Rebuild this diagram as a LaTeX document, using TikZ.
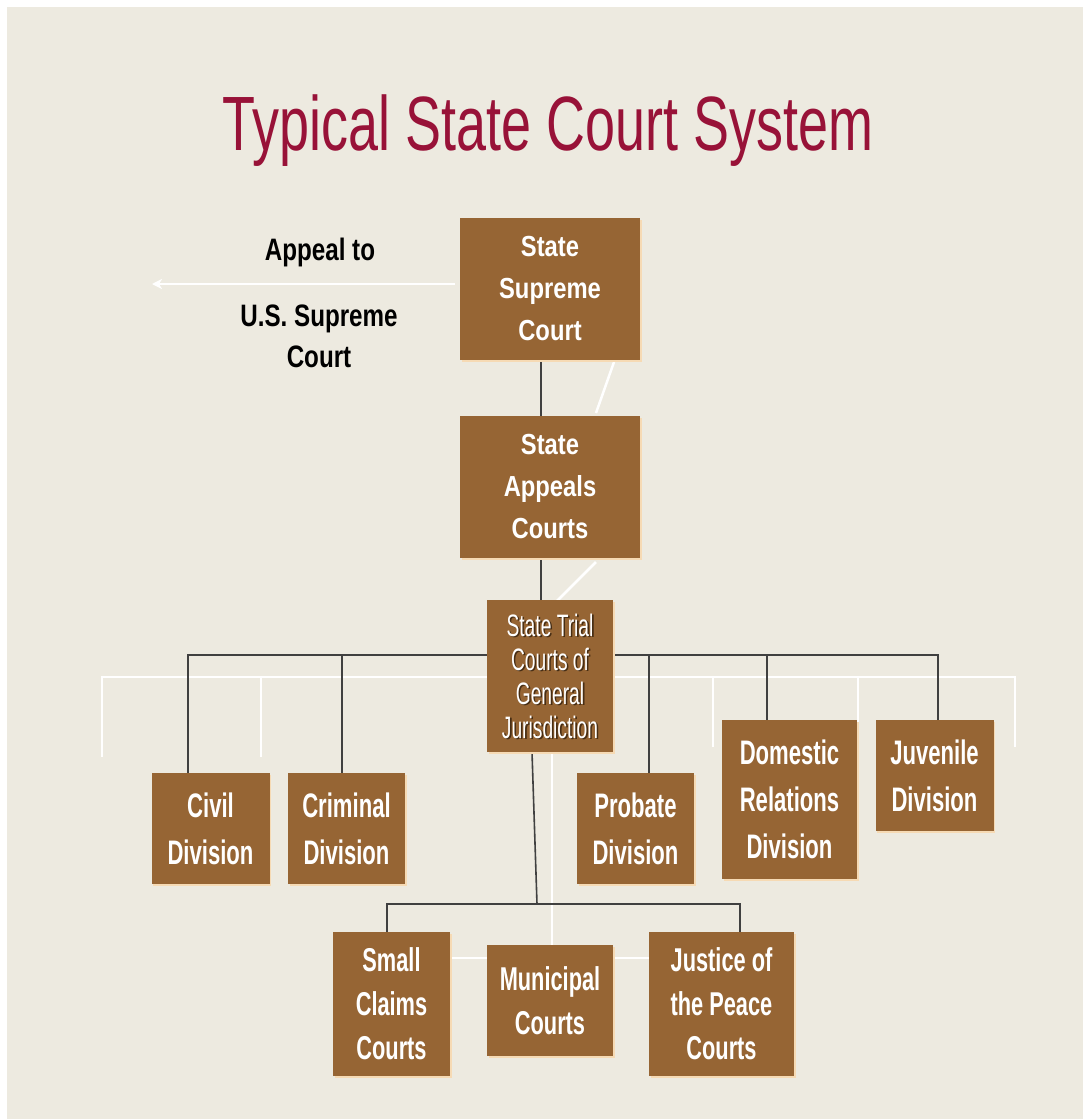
\documentclass[tikz,border=0pt]{standalone}
\usepackage{fontspec}
\setmainfont{Liberation Sans}
\newfontfamily\titlefont{Liberation Sans}[FakeStretch=0.70]
\newfontfamily\topfont{Liberation Sans Bold}[FakeStretch=0.82]
\newfontfamily\appfont{Liberation Sans Bold}[FakeStretch=0.78]
\newfontfamily\trialfont{Liberation Sans}[FakeStretch=0.62]
\newfontfamily\divfont{Liberation Sans Bold}[FakeStretch=0.65]
\newfontfamily\lowfont{Liberation Sans Bold}[FakeStretch=0.66]
\usetikzlibrary{arrows.meta,shadows}
\definecolor{bgcol}{RGB}{237,234,224}
\definecolor{boxcol}{RGB}{150,101,52}
\definecolor{titlecol}{RGB}{152,18,56}
\definecolor{linecol}{RGB}{64,64,64}
\definecolor{glowcol}{RGB}{246,218,180}
\definecolor{shadowcol}{RGB}{70,45,20}
\pgfdeclarelayer{bg}
\pgfdeclarelayer{lines}
\pgfsetlayers{bg,lines,main}
\tikzset{
  courtbox/.style={fill=boxcol, text=white, inner sep=0pt, align=center,
    drop shadow={shadow xshift=1.5pt, shadow yshift=-1.5pt, fill=glowcol, opacity=1}},
  topbox/.style={courtbox, minimum width=180pt, minimum height=142pt,
    font={\topfont\fontsize{29}{42}\selectfont}},
  trialbox/.style={courtbox, minimum width=126pt, minimum height=152pt},
  trialtext/.style={inner sep=0pt, align=center, font={\trialfont\fontsize{31}{34}\selectfont}},
  divbox/.style={courtbox, font={\divfont\fontsize{34}{47}\selectfont}},
  lowbox/.style={courtbox, font={\lowfont\fontsize{33}{44}\selectfont}},
  conn/.style={draw=linecol, line width=1.6pt},
  deco/.style={draw=white, line width=2.5pt},
}
\begin{document}
\begin{tikzpicture}[x=1pt, y=-1pt]
\useasboundingbox (0,0) rectangle (1083,1119);
\begin{pgfonlayer}{bg}
  \fill[white] (0,0) rectangle (1083,1119);
  \fill[bgcol] (7,7) rectangle (1083,1119);
\end{pgfonlayer}

% title
\node[anchor=base, text=titlecol, inner sep=0pt,
  font={\titlefont\fontsize{77}{80}\selectfont}] (title) at (548,150) {Typical State Court System};

% upper boxes
\node[topbox] (sup) at (550,289) {State\\Supreme\\Court};
\node[topbox] (app) at (550,487) {State\\Appeals\\Courts};
\node[trialbox] (trial) at (550,676) {};
\node[trialtext, text=shadowcol] (trialsh) at ([shift={(1.6pt,-1.6pt)}]trial.center) {State Trial\\Courts of\\General\\Jurisdiction};
\node[trialtext, text=white] (trialtx) at (trial.center) {State Trial\\Courts of\\General\\Jurisdiction};

% appeal text
\node[anchor=base, inner sep=0pt, font={\appfont\fontsize{31}{41}\selectfont}] (appeal1) at (320,260) {Appeal to};
\node[inner sep=0pt, align=center, font={\appfont\fontsize{31}{41}\selectfont}] (appeal2) at (319,336) {U.S. Supreme\\Court};

% divisions
\node[divbox, minimum width=118pt, minimum height=111pt] (civ) at (210.5,828.5) {Civil\\Division};
\node[divbox, minimum width=117pt, minimum height=111pt] (crim) at (346.5,828.5) {Criminal\\Division};
\node[divbox, minimum width=117pt, minimum height=111pt] (prob) at (635.5,828.5) {Probate\\Division};
\node[divbox, minimum width=135pt, minimum height=159pt] (dom) at (789.5,799.5) {Domestic\\Relations\\Division};
\node[divbox, minimum width=118pt, minimum height=111pt] (juv) at (934.5,775.5) {Juvenile\\Division};

% lower courts
\node[lowbox, minimum width=117pt, minimum height=144pt] (sc) at (391.5,1004) {Small\\Claims\\Courts};
\node[lowbox, minimum width=126pt, minimum height=111pt] (mun) at (550,1000.5) {Municipal\\Courts};
\node[lowbox, minimum width=145pt, minimum height=144pt] (jp) at (721.5,1004) {Justice of\\the Peace\\Courts};

% helper coordinates
\coordinate (bus) at (0,655);
\coordinate (lowj) at (537,904);
\coordinate (usc) at (152,284);
\coordinate (civT) at ([xshift=-22.5pt]civ.north);
\coordinate (crimT) at ([xshift=-4.5pt]crim.north);
\coordinate (probT) at ([xshift=13.5pt]prob.north);
\coordinate (domT) at ([xshift=-22.5pt]dom.north);
\coordinate (juvT) at ([xshift=3.5pt]juv.north);
\coordinate (scT) at ([xshift=-4.5pt]sc.north);
\coordinate (jpT) at ([xshift=18.5pt]jp.north);

\begin{pgfonlayer}{lines}
  % white decorative lines
  \draw[deco] (614,362) -- (596,413);
  \draw[deco] (596,562) -- (556,602);
  \draw[deco] (102,757) -- (102,677) -- (1015,677) -- (1015,747);
  \draw[deco] (261,677) -- (261,757);
  \draw[deco] (713,677) -- (713,747);
  \draw[deco] (858,677) -- (858,722);
  \draw[deco] (552,752) -- (552,958);
  \draw[deco] (450,958) -- (649,958);
  % connectors
  \draw[conn] ([xshift=-9pt]sup.south) -- ([xshift=-9pt]app.north);
  \draw[conn] ([xshift=-9pt]app.south) -- ([xshift=-9pt]trial.north);
  \draw[conn] (civT) -- (civT |- bus) -- (juvT |- bus) -- (juvT);
  \draw[conn] (crimT) -- (crimT |- bus);
  \draw[conn] (probT) -- (probT |- bus);
  \draw[conn] (domT) -- (domT |- bus);
  \draw[conn] ([xshift=-18pt]trial.south) -- (lowj);
  \draw[conn] (scT) -- (scT |- lowj) -- (jpT |- lowj) -- (jpT);
  % appeal arrow
  \draw[draw=white, line width=2.8pt, -{Stealth[length=10pt, width=10pt, inset=3pt]}] ([xshift=-5pt]sup.west |- usc) -- (usc);
\end{pgfonlayer}
\end{tikzpicture}
\end{document}
